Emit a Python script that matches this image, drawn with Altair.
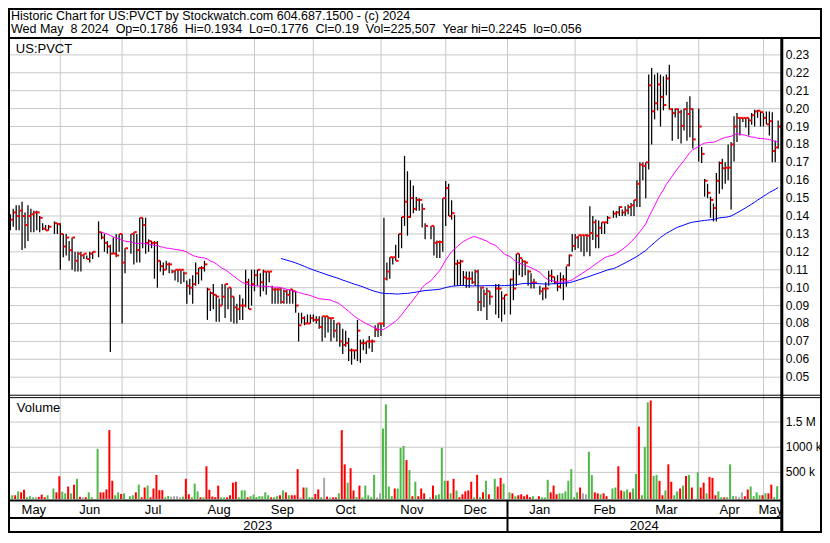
import altair as alt
import pandas as pd

# ---------------- data ----------------
hi = [.141,.144,.146,.146,.148,.142,.146,.144,.143,.143,
      .140,.136,.135,.135,None,.137,.136,.136,.130,.130,
      .126,.128,.120,.120,.120,.119,.118,.120,.120,None,
      .137,.131,.130,.126,.124,.128,.130,.130,.130,.122,
      None,.130,.131,.130,.139,.139,.139,.127,.126,.126,
      .126,.115,.114,.115,.114,.110,.110,.110,.110,.109,
      .104,.105,.107,.114,.111,.112,.115,.100,.098,.102,
      .096,.094,.102,.102,.100,.100,.095,.091,.096,.094,
      .110,.105,.110,.110,.110,.108,.110,.109,.109,.101,
      .100,.100,.100,.099,.099,.099,.099,.098,.086,.086,
      .084,.085,.085,.085,.084,.084,.084,.084,.084,.083,
      .082,.080,.080,.077,.076,.072,.066,.065,.082,.071,
      .071,.070,.073,.071,.079,.080,.080,.139,.114,.117,
      .117,.124,.130,.1395,.1736,.165,.160,.157,.1506,.150,
      .147,.136,None,.1345,.1345,.1264,.1264,.150,.1596,.158,
      .1488,.1407,.1156,.1156,.1093,.109,.109,.109,.110,.110,
      .1005,.099,.100,.098,None,.102,.102,.098,.096,None,
      .105,.110,.119,.119,.116,.115,.110,.108,.105,None,
      .101,.100,.103,.1095,.110,.106,.107,.1085,.107,.112,
      .1185,.130,.130,.129,.129,.129,.130,.1455,.140,.138,
      .1375,.1365,.1365,.140,None,.143,.1428,.1455,.1437,.1455,
      .1464,.1473,.149,.160,.170,.170,.170,.219,.2227,.219,
      .220,.219,.218,.219,.2245,.200,.200,.200,.1993,.200,
      .2038,.2069,.200,None,.200,.1786,.1607,.158,.1508,.147,
      .164,.1705,.172,.170,.180,.1813,.1957,.1975,.1948,.1948,
      .1948,.1948,.1975,.1993,.1993,.1984,.1975,.1984,.1984,.198,
      .1822,.1934]

lo = [.132,.134,.132,.132,.121,.122,.126,.131,.131,.132,
      .131,.132,.132,.132,None,.130,.130,.110,.117,.118,
      .115,.110,.109,.109,.109,.116,.116,.114,.116,None,
      .117,.127,.120,.119,.064,.119,.117,.120,.080,.108,
      None,.119,.113,.114,.114,.122,.119,.120,.122,.105,
      .100,.109,.107,.110,.108,.108,.104,.103,.102,.103,
      .091,.096,.091,.101,.102,.104,.109,.082,.087,.088,
      .081,.081,.090,.083,.088,.081,.080,.080,.082,.082,
      .089,.088,.090,.098,.101,.095,.098,.096,.103,.091,
      .091,.091,.091,.091,.091,.091,.091,.086,.070,.080,
      .079,.080,.080,.081,.080,.077,.070,.072,.075,.070,
      .072,.070,.067,.063,.067,.059,.057,.060,.059,.058,
      .065,.063,.066,.064,.0725,.0725,.073,.078,.104,.105,
      .113,.115,.1165,.122,.1345,.129,.139,.1416,.143,.143,
      .1336,.127,None,.127,.118,.1165,.1165,.120,.1345,.140,
      .138,.101,.101,.101,.101,.100,.100,.102,.101,.087,
      .087,.089,.082,.0905,None,.085,.083,.081,.085,None,
      .085,.093,.101,.107,.106,.107,.101,.0995,.0995,None,
      .096,.093,.094,.101,.103,.102,.098,.0995,.093,.1005,
      .112,.120,.121,.122,.120,.1176,.120,.1176,.1266,.122,
      .122,.130,.130,.1356,None,.139,.139,.140,.140,.140,
      .141,.140,.140,.145,.145,.160,.150,.166,.180,.194,
      .199,.190,.199,.2075,.1995,.182,.195,.183,.1805,.1877,
      .182,.184,.1777,None,.1705,.1696,.1508,.150,.139,.137,
      .137,.1525,.155,.158,.160,.1436,.1705,.1813,.185,.1925,
      .1894,.185,.191,.190,.1948,.190,.190,.1912,.185,.170,
      .170,.1776]

cl = [.138,.142,.140,.143,.140,.135,.140,.141,.142,.142,
      .139,.133,.132,.134,None,.136,.1355,.130,.123,.128,
      .121,.128,.115,.119,.118,.119,.116,.119,.120,None,
      .131,.128,.125,.123,.119,.119,.118,.130,.114,.122,
      None,.130,.131,.121,.139,.135,.125,.126,.125,.125,
      .115,.112,.110,.113,.113,.109,.110,.110,.110,.108,
      .101,.100,.102,.108,.111,.111,.113,.099,.097,.096,
      .095,.090,.095,.102,.100,.095,.089,.088,.090,.090,
      .103,.088,.102,.107,.110,.103,.109,.109,.109,.099,
      .099,.099,.092,.098,.096,.099,.098,.090,.079,.083,
      .080,.080,.083,.082,.082,.078,.084,.084,.083,.083,
      .076,.080,.070,.068,.069,.065,.065,.065,.076,.069,
      .069,.070,.070,.070,.0765,.080,.080,.105,.109,.117,
      .117,.115,.130,.1395,.148,.1395,.150,.144,.149,.149,
      .144,.1345,None,.1345,.125,.1255,.1255,.150,.1556,.140,
      .1416,.1133,.1138,.1147,.1057,.105,.105,.103,.109,.092,
      .100,.0965,.098,.095,None,.0995,.0995,.094,.096,None,
      .1046,.0995,.119,.1165,.1147,.114,.109,.1028,.1028,None,
      .098,.0995,.0995,.1067,.106,.1028,.1005,.1046,.1046,.1125,
      .118,.1233,.128,.1293,.1293,.1293,.129,.1305,.1365,.129,
      .1334,.1365,.1365,.139,None,.1414,.142,.145,.142,.1431,
      .145,.146,.149,.158,.1687,.168,.170,.213,.1985,.203,
      .2135,.2065,.202,.2168,.1997,.1975,.1997,.198,.1903,.1997,
      .197,.1997,.1828,None,.190,.1747,.1597,.153,.149,.1445,
      .1597,.1696,.1667,.167,.167,.180,.190,.1948,.1948,.1948,
      .1948,.1934,.1963,.1984,.1988,.198,.1948,.1912,.193,.1763,
      .1783,.19]

vol_k = [20,45,45,122,103,154,6,26,3,13,
         13,58,6,45,0,179,103,423,115,83,
         218,83,256,372,13,3,6,103,6,0,
         968,103,103,160,1340,333,45,103,70,83,
         0,26,45,103,256,3,199,237,3,179,
         449,147,147,6,32,19,26,26,6,19,
         372,64,6,276,122,3,6,622,154,19,
         6,237,3,3,3,45,295,314,6,141,
         141,3,26,58,10,26,26,103,45,3,
         6,26,45,141,103,45,45,45,564,3,
         199,199,6,6,70,160,6,391,19,3,
         3,3,83,1340,660,295,583,141,10,237,
         3,237,45,6,449,3,83,1372,1852,218,
         26,179,179,987,1026,744,545,26,314,26,
         179,83,0,3,237,45,64,987,333,333,
         83,372,141,6,64,122,141,314,3,449,
         6,103,333,64,0,372,218,391,276,0,
         103,83,26,45,64,26,58,5,26,0,
         26,3,3,353,103,237,64,83,83,122,
         333,564,6,103,199,83,64,910,449,103,
         83,64,83,26,0,179,199,622,141,122,
         160,103,179,468,1410,45,1006,1891,1929,429,
         449,333,45,141,660,314,45,122,179,237,
         429,449,199,0,500,199,295,83,410,391,
         45,122,6,3,6,660,26,26,5,103,
         26,160,218,26,103,45,45,83,83,256,
         6,225]

# volume bar colour as read: u = up (green), d = down (red), f = flat (grey), - = no trade
vol_dir = ("u u d u d d u u u f  d d d u - u d d u u  d u d u d f d u u -  "
           "u d d d d d u u d u  - u u d u d d u d d  d d d u u f f f f u  "
           "d d u u u d u d d d  d d u u d d d d u u  u d u u u u u u u d  "
           "u u d u d u d d d f  d u u u d d u f d f  d d u d d u d d u d  "
           "u u u u u f f u u u  u d u u u d u d u d  d d - f d u u u u d  "
           "u d u d d d d d u d  u d u d - u d d u -  u d u d d d d d u -  "
           "d u u u d d d u u u  u u u u d f f u u d  d u d d - u u d d u  "
           "u d u u d u u u d u  u d d u d d u u d u  d u d - u d d u d d  "
           "d u u d u u u f f f  d d u u u u d u d d  u u").split()
vol_dir = [None if d == "-" else d for d in vol_dir]

month_names = ["May", "Jun", "Jul", "Aug", "Sep", "Oct", "Nov", "Dec",
               "Jan", "Feb", "Mar", "Apr", "May"]
month_start = [0, 17, 38, 60, 83, 103, 126, 148, 169, 192, 213, 234, 256]
year_names = ["2023", "2024"]
year_start = [169]

price_ticks = [0.05, 0.06, 0.07, 0.08, 0.09, 0.10, 0.11, 0.12, 0.13,
               0.14, 0.15, 0.16, 0.17, 0.18, 0.19, 0.20, 0.21, 0.22, 0.23]
vol_ticks = [500, 1000, 1500]
vol_tick_labels = ["500 k", "1000 k", "1.5 M"]

header_1 = "Historic Chart for US:PVCT by Stockwatch.com 604.687.1500 - (c) 2024"
header_2 = ("Wed May\u00a0 8 2024\u00a0 Op=0.1786\u00a0 Hi=0.1934\u00a0 Lo=0.1776\u00a0 "
            "Cl=0.19\u00a0 Vol=225,507\u00a0 Year hi=0.2245\u00a0 lo=0.056")
symbol = "US:PVCT"
vol_title = "Volume"

# ---------------- layout ----------------
W, H = 814, 525
SX, SY = W / 830.0, H / 543.0
def X(px): return round(px * SX, 2)
def Y(py): return round(py * SY, 2)

FONT = "Liberation Sans"
GRID = "#c8c8c8"
GREEN, RED, GREY = "#4fb848", "#ff0000", "#a8a8a8"

N = len(cl)
df = pd.DataFrame({"s": list(range(N)), "hi": hi, "lo": lo, "cl": cl,
                   "vol": vol_k, "dir": vol_dir})

X_MIN, X_MAX = -0.78, 261.9
xs = alt.Scale(domain=[X_MIN, X_MAX], range=[X(0), X(788)], zero=False, nice=False)
ps = alt.Scale(domain=[0.0402, 0.2389], range=[Y(400), Y(32)], zero=False, nice=False)
vs = alt.Scale(domain=[-52, 1986], range=[Y(509), Y(403)], zero=False, nice=False)

starts = month_start + [N]
mdf = pd.DataFrame({"name": month_names,
                    "mid": [(starts[i] + starts[i + 1] - 1) / 2 for i in range(len(month_names))]})
yb = [X_MIN] + year_start + [X_MAX]
ydf = pd.DataFrame({"name": year_names, "mid": [(yb[i] + yb[i + 1]) / 2 for i in range(len(year_names))]})

layers = []

# grid
layers.append(alt.Chart(pd.DataFrame({"s": month_start[1:]})).mark_rule(color=GRID, strokeWidth=1).encode(
    x=alt.X("s:Q", scale=xs, axis=None), y=alt.value(Y(32)), y2=alt.value(Y(509))))
layers.append(alt.Chart(pd.DataFrame({"v": price_ticks})).mark_rule(color=GRID, strokeWidth=1).encode(
    y=alt.Y("v:Q", scale=ps, axis=None), x=alt.value(X(0)), x2=alt.value(X(788))))
layers.append(alt.Chart(pd.DataFrame({"v": vol_ticks})).mark_rule(color=GRID, strokeWidth=1).encode(
    y=alt.Y("v:Q", scale=vs, axis=None), x=alt.value(X(0)), x2=alt.value(X(788))))

# volume bars
layers.append(alt.Chart(df).transform_filter("datum.vol > 0").transform_calculate(
    xv="datum.s - 0.33").mark_rule(strokeWidth=2).encode(
    x=alt.X("xv:Q", scale=xs, axis=None),
    y=alt.Y("vol:Q", scale=vs, axis=None),
    y2=alt.datum(-30),
    color=alt.Color("dir:N", scale=alt.Scale(domain=["u", "d", "f"], range=[GREEN, RED, GREY]), legend=None)))

# price high-low bars
layers.append(alt.Chart(df).transform_filter("isValid(datum.hi)").mark_rule(color="black", strokeWidth=1.25).encode(
    x=alt.X("s:Q", scale=xs, axis=None),
    y=alt.Y("lo:Q", scale=ps, axis=None), y2="hi:Q"))
# close ticks
layers.append(alt.Chart(df).transform_filter("isValid(datum.cl)").transform_calculate(
    xa="datum.s + 0.12", xb="datum.s + 1.0").mark_rule(color="#ff0000", strokeWidth=2).encode(
    x=alt.X("xa:Q", scale=xs, axis=None), x2="xb:Q",
    y=alt.Y("cl:Q", scale=ps, axis=None)))

# moving averages
for n, colr in [(30, "#ff00ff"), (90, "#0000ff")]:
    layers.append(alt.Chart(df).transform_filter("isValid(datum.cl)").transform_window(
        window=[alt.WindowFieldDef(op="mean", field="cl", **{"as": "ma"}),
                alt.WindowFieldDef(op="count", **{"as": "cnt"})],
        frame=[-(n - 1), 0], sort=[alt.SortField("s", order="ascending")]
    ).transform_filter(f"datum.cnt >= {n}").mark_line(color=colr, strokeWidth=1).encode(
        x=alt.X("s:Q", scale=xs, axis=None), y=alt.Y("ma:Q", scale=ps, axis=None)))

# axis labels
layers.append(alt.Chart(pd.DataFrame({"v": price_ticks})).mark_text(
    align="left", baseline="middle", font=FONT, fontSize=12, color="black").encode(
    y=alt.Y("v:Q", scale=ps, axis=None), x=alt.value(X(793)), text=alt.Text("v:Q", format=".2f")))
layers.append(alt.Chart(pd.DataFrame({"v": vol_ticks, "lab": vol_tick_labels})).mark_text(
    align="left", baseline="middle", font=FONT, fontSize=12, color="black").encode(
    y=alt.Y("v:Q", scale=vs, axis=None), x=alt.value(X(793)), text="lab:N"))
layers.append(alt.Chart(mdf).mark_text(align="center", baseline="alphabetic", font=FONT, fontSize=13,
                                       color="black").encode(
    x=alt.X("mid:Q", scale=xs, axis=None), y=alt.value(Y(523)), text="name:N"))
layers.append(alt.Chart(ydf).mark_text(align="center", baseline="alphabetic", font=FONT, fontSize=13,
                                       color="black").encode(
    x=alt.X("mid:Q", scale=xs, axis=None), y=alt.value(Y(539.5)), text="name:N"))
layers.append(alt.Chart(pd.DataFrame({"s": year_start})).mark_rule(color="black", strokeWidth=2).encode(
    x=alt.X("s:Q", scale=xs, axis=None), y=alt.value(Y(510)), y2=alt.value(Y(542))))

# texts
def txt(t, px, py, size=13):
    return alt.Chart(pd.DataFrame({"t": [t]})).mark_text(
        align="left", baseline="alphabetic", font=FONT, fontSize=size, color="black").encode(
        x=alt.value(X(px)), y=alt.value(Y(py)), text="t:N")

layers += [txt(header_1, 3, 12.5, 12.5), txt(header_2, 3, 26, 12.5),
           txt(symbol, 8, 46.5), txt(vol_title, 9, 418)]

# frame lines
def hline(py, x1, x2, w):
    return alt.Chart(pd.DataFrame({"k": [0]})).mark_rule(color="black", strokeWidth=w).encode(
        x=alt.value(X(x1)), x2=alt.value(X(x2)), y=alt.value(Y(py)))
def vline(px, y1, y2, w):
    return alt.Chart(pd.DataFrame({"k": [0]})).mark_rule(color="black", strokeWidth=w).encode(
        x=alt.value(X(px)), y=alt.value(Y(y1)), y2=alt.value(Y(y2)))

layers += [hline(31, 0, 830, 2), hline(400.5, 0, 830, 1), hline(403, 0, 830, 1),
           hline(509.5, 0, 789, 2), hline(527.5, 0, 789, 2), vline(789, 31, 543, 3)]
layers.append(alt.Chart(pd.DataFrame({"k": [0]})).mark_rect(
    fill="transparent", stroke="black", strokeWidth=2).encode(
    x=alt.value(1), x2=alt.value(W - 1), y=alt.value(1), y2=alt.value(H - 1)))

chart = alt.layer(*layers).resolve_scale(y="independent").properties(
    width=W, height=H, autosize=alt.AutoSizeParams(type="none"), padding=0,
    background="white").configure_view(stroke=None)

chart.save("out.html", embed_options={"renderer": "svg", "actions": False})
